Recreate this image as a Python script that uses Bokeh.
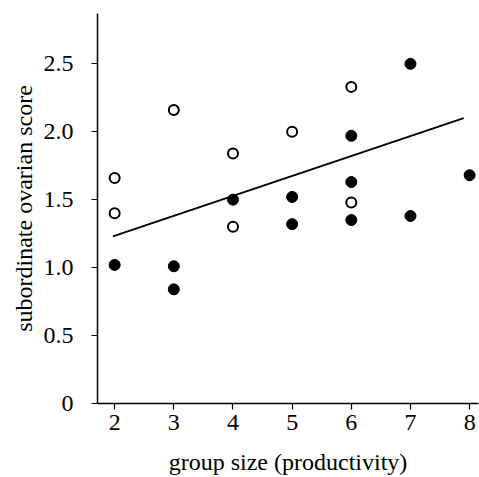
from bokeh.plotting import figure
from bokeh.models import Range1d, FixedTicker
from bokeh.embed import file_html
from bokeh.resources import INLINE

# open circles
open_x = [2, 2, 3, 4, 4, 5, 6, 6]
open_y = [1.66, 1.40, 2.16, 1.84, 1.30, 2.00, 2.33, 1.48]
# filled circles
fill_x = [2, 3, 3, 4, 5, 5, 6, 6, 6, 7, 7, 8]
fill_y = [1.02, 1.01, 0.84, 1.50, 1.52, 1.32, 1.97, 1.63, 1.35, 2.50, 1.38, 1.68]
# regression line
fit_x = [1.97, 7.90]
fit_y = [1.23, 2.10]

x_ticks = [2, 3, 4, 5, 6, 7, 8]
y_ticks = [0, 0.5, 1.0, 1.5, 2.0, 2.5]
y_labels = {0: "0", 0.5: "0.5", 1.0: "1.0", 1.5: "1.5", 2.0: "2.0", 2.5: "2.5"}

FONT = "Liberation Serif"

p = figure(width=479, height=477, output_backend="svg", toolbar_location=None,
           x_range=Range1d(1.71, 8.15), y_range=Range1d(0, 2.87),
           min_border_left=97, min_border_right=1, min_border_top=13, min_border_bottom=72)
p.outline_line_color = None
p.xgrid.grid_line_color = None
p.ygrid.grid_line_color = None

p.line(fit_x, fit_y, line_color="black", line_width=1.8)
p.scatter(fill_x, fill_y, size=11, fill_color="black", line_color="black", line_width=1)
p.scatter(open_x, open_y, size=10, fill_color="white", line_color="black", line_width=2)

for ax in (p.xaxis[0], p.yaxis[0]):
    ax.axis_line_width = 1.5
    ax.axis_line_color = "black"
    ax.major_tick_line_color = "black"
    ax.major_tick_line_width = 1.2
    ax.major_tick_in = 0
    ax.major_tick_out = 6
    ax.minor_tick_line_color = None
    ax.major_label_text_font = FONT
    ax.major_label_text_font_size = "24px"
    ax.major_label_text_color = "black"
    ax.axis_label_text_font = FONT
    ax.axis_label_text_font_size = "24px"
    ax.axis_label_text_font_style = "normal"
    ax.axis_label_text_color = "black"

p.xaxis.ticker = FixedTicker(ticks=x_ticks)
p.yaxis.ticker = FixedTicker(ticks=y_ticks)
p.yaxis.major_label_overrides = y_labels
p.xaxis.axis_label = "group size (productivity)"
p.yaxis.axis_label = "subordinate ovarian score"
p.xaxis.major_label_standoff = 5
p.yaxis.major_label_standoff = 18
p.xaxis.axis_label_standoff = 16
p.yaxis.axis_label_standoff = 4

open("out.html", "w").write(file_html(p, INLINE))
